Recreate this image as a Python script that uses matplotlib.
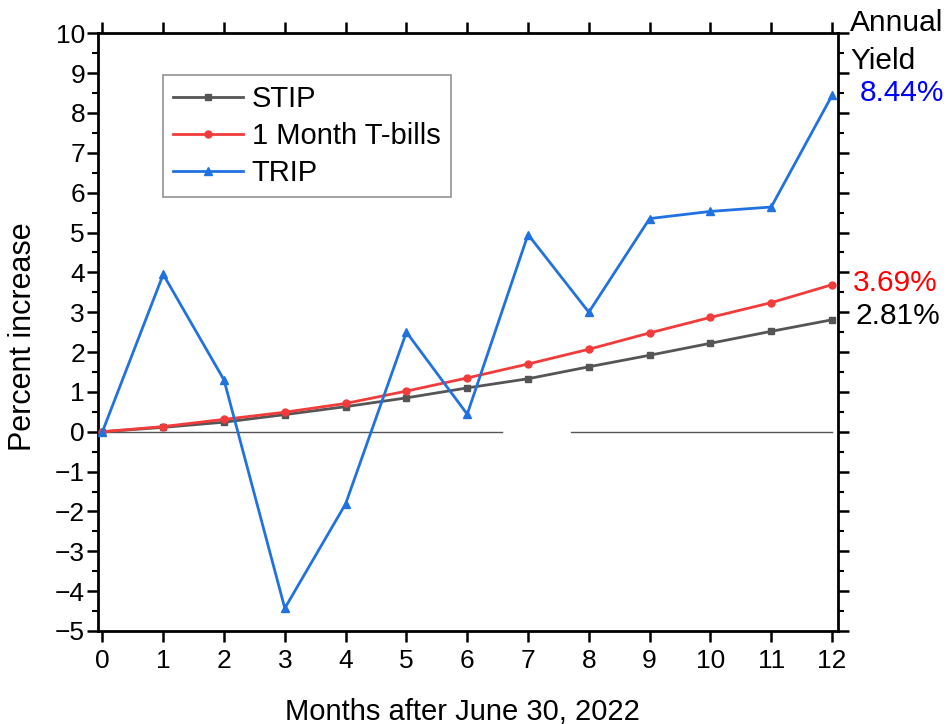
import matplotlib.pyplot as plt
from matplotlib.ticker import MultipleLocator

plt.rcParams["font.family"] = ["Liberation Sans", "DejaVu Sans"]

months = list(range(13))
stip = [0, 0.11, 0.24, 0.43, 0.63, 0.85, 1.10, 1.33, 1.63, 1.92, 2.22, 2.52, 2.81]
tbills = [0, 0.13, 0.31, 0.49, 0.71, 1.02, 1.35, 1.70, 2.07, 2.48, 2.87, 3.24, 3.69]
trip = [0, 3.95, 1.30, -4.43, -1.81, 2.50, 0.44, 4.95, 3.00, 5.35, 5.53, 5.64, 8.44]

yield_labels = ["8.44%", "3.69%", "2.81%"]
yield_values = [8.44, 3.69, 2.81]
yield_colors = ["#0000ff", "#ff0000", "black"]
yield_offsets = [(20, 1.5), (15, 1), (17, 3)]

fig = plt.figure(figsize=(9.47, 7.24), dpi=100)
ax = fig.add_axes([0.103, 0.1285, 0.782, 0.8255])

# zero reference line (broken in the middle)
ax.plot([0, 6.57], [0, 0], color="#555555", lw=1.0, zorder=1)
ax.plot([7.71, 12], [0, 0], color="#555555", lw=1.0, zorder=1)

ax.plot(months, stip, color="#555555", marker="s", ms=5, lw=2, label="STIP", zorder=3)
ax.plot(months, tbills, color="#f23b3b", marker="o", ms=5, lw=2, label="1 Month T-bills", zorder=3)
ax.plot(months, trip, color="#2072e0", marker="^", ms=6, lw=2, label="TRIP", zorder=4)

ax.set_xlim(-0.08, 12.1)
ax.set_ylim(-5, 10)
ax.xaxis.set_major_locator(MultipleLocator(1))
ax.yaxis.set_major_locator(MultipleLocator(1))
ax.yaxis.set_minor_locator(MultipleLocator(0.5))

for side in ["left", "right", "top", "bottom"]:
    ax.spines[side].set_linewidth(2)

ax.tick_params(axis="both", which="major", direction="out", length=8, width=1.8,
               labelsize=19, top=True, right=True)
ax.tick_params(axis="y", which="minor", direction="out", length=4, width=1.5, right=True)
ax.tick_params(axis="x", pad=5)
ax.tick_params(axis="y", pad=1)

ax.set_xlabel("Months after June 30, 2022", fontsize=21)
ax.xaxis.set_label_coords(0.493, -0.135)
ax.xaxis.label.set_va("center")
ax.set_ylabel("Percent increase", fontsize=22)
ax.yaxis.set_label_coords(-0.101, 0.493)
ax.yaxis.label.set_va("center")

leg = ax.legend(loc="upper left", bbox_to_anchor=(0.088, 0.93), fontsize=21,
                frameon=True, fancybox=False, edgecolor="#777777",
                handlelength=2.4, handletextpad=0.3, labelspacing=0.3,
                borderpad=0.35, borderaxespad=0)
leg.get_frame().set_linewidth(1.2)

ax.text(12.3, 10.27, "Annual", fontsize=21.5, ha="left", va="center", clip_on=False)
ax.text(12.3, 9.3, "Yield", fontsize=21.5, ha="left", va="center", clip_on=False)
for lab, val, col, off in zip(yield_labels, yield_values, yield_colors, yield_offsets):
    ax.annotate(lab, xy=(12, val), xytext=off, textcoords="offset points",
                fontsize=21.5, color=col, ha="left", va="center", annotation_clip=False)

plt.savefig("out.png", dpi=100)
